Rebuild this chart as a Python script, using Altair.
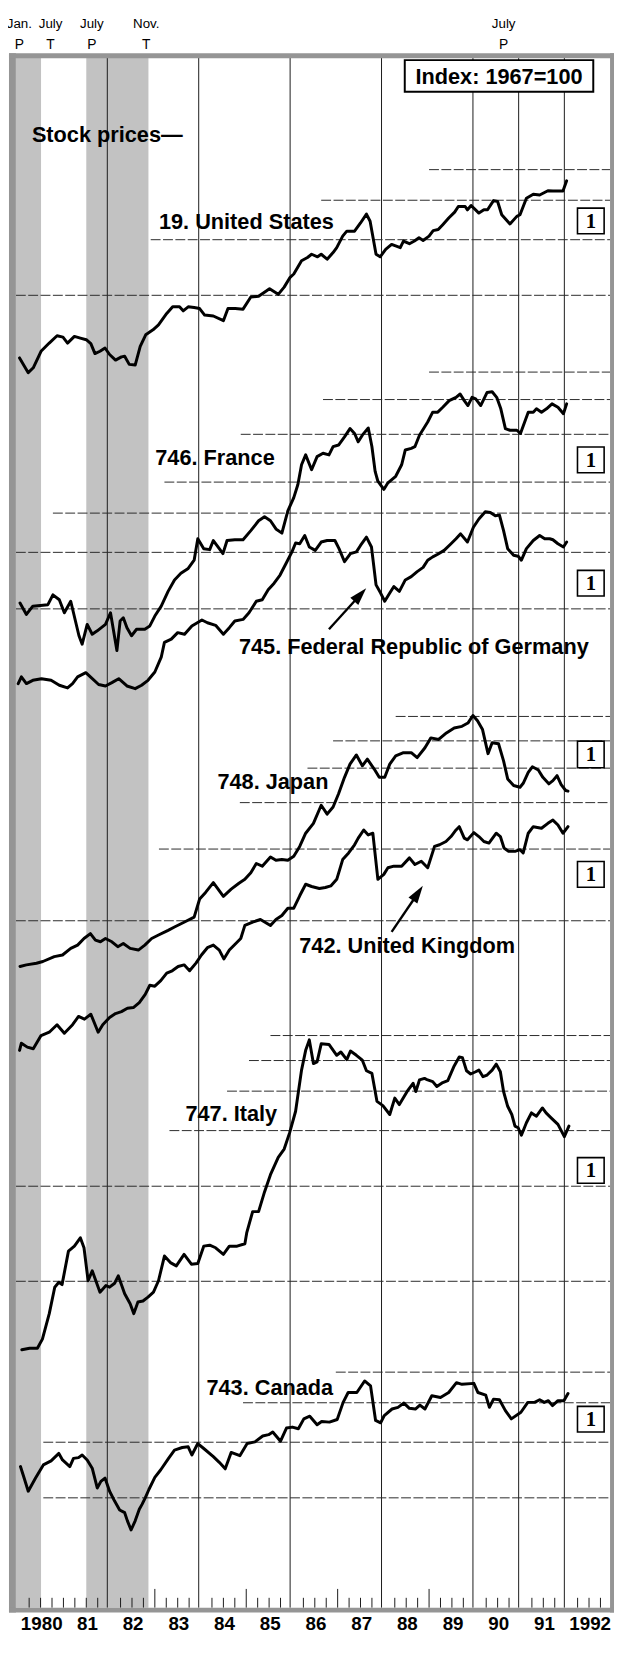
import altair as alt
import pandas as pd

FONT = "Liberation Sans, Arial, Helvetica, sans-serif"
SERIF = "Liberation Serif, DejaVu Serif, serif"

# ---------------- data (index, 1967=100; ratio scale) ----------------
us_t = [1980.08, 1980.27, 1980.38, 1980.55, 1980.73, 1980.90, 1981.03, 1981.13, 1981.28, 1981.41,
        1981.54, 1981.64, 1981.73, 1981.84, 1981.95, 1982.05, 1982.18, 1982.31, 1982.38, 1982.48,
        1982.61, 1982.72, 1982.84, 1983.00, 1983.12, 1983.30, 1983.43, 1983.58, 1983.66, 1983.77,
        1983.90, 1984.02, 1984.13, 1984.32, 1984.54, 1984.64, 1984.80, 1984.97, 1985.14, 1985.31,
        1985.55, 1985.74, 1985.87, 1986.00, 1986.08, 1986.25, 1986.38, 1986.47, 1986.60, 1986.68,
        1986.81, 1986.94, 1987.02, 1987.15, 1987.24, 1987.41, 1987.54, 1987.67, 1987.75, 1987.88,
        1987.97, 1988.09, 1988.22, 1988.41, 1988.48, 1988.61, 1988.72, 1988.82, 1988.91, 1989.04,
        1989.13, 1989.24, 1989.34, 1989.47, 1989.60, 1989.68, 1989.83, 1989.88, 1989.96, 1990.13,
        1990.24, 1990.32, 1990.45, 1990.54, 1990.63, 1990.81, 1990.96, 1991.03, 1991.17, 1991.32,
        1991.46, 1991.64, 1991.75, 1991.97, 1992.05]
us_v = [126.7, 113.8, 117.9, 133.0, 141.2, 148.9, 147.4, 141.2, 148.2, 146.4,
        144.7, 140.6, 130.8, 133.0, 136.2, 129.9, 124.7, 127.7, 128.3, 120.9,
        120.3, 137.9, 150.0, 155.5, 161.2, 175.2, 183.9, 183.9, 178.6, 183.9,
        182.9, 181.6, 173.2, 172.0, 166.2, 181.6, 181.6, 180.8, 197.6, 198.6,
        209.7, 201.4, 212.3, 228.1, 233.6, 257.3, 263.5, 269.8, 264.8, 269.8,
        260.3, 273.1, 283.1, 308.0, 319.3, 319.3, 338.9, 361.6, 343.1, 269.8,
        264.8, 279.7, 289.9, 283.1, 297.1, 291.4, 297.1, 304.2, 298.4, 308.0,
        320.6, 323.0, 334.8, 351.3, 366.8, 382.2, 382.2, 373.0, 385.0, 364.2,
        373.0, 373.0, 399.0, 396.2, 359.8, 336.5, 355.6, 359.8, 405.7, 417.6,
        415.5, 428.8, 427.6, 427.6, 460.8]

fr_t = [1980.09, 1980.23, 1980.37, 1980.70, 1980.81, 1980.95, 1981.06, 1981.20, 1981.38, 1981.45,
        1981.56, 1981.67, 1981.78, 1981.96, 1982.07, 1982.21, 1982.28, 1982.35, 1982.43, 1982.53,
        1982.64, 1982.82, 1982.93, 1983.04, 1983.18, 1983.33, 1983.47, 1983.61, 1983.77, 1983.90,
        1983.98, 1984.11, 1984.24, 1984.32, 1984.45, 1984.53, 1984.62, 1984.79, 1984.97, 1985.14,
        1985.31, 1985.44, 1985.57, 1985.69, 1985.82, 1985.95, 1986.08, 1986.17, 1986.25, 1986.34,
        1986.47, 1986.59, 1986.72, 1986.85, 1986.94, 1987.06, 1987.19, 1987.31, 1987.41, 1987.49,
        1987.58, 1987.71, 1987.79, 1987.86, 1987.92, 1988.05, 1988.14, 1988.31, 1988.44, 1988.52,
        1988.65, 1988.73, 1988.83, 1989.01, 1989.12, 1989.23, 1989.34, 1989.48, 1989.63, 1989.72,
        1989.81, 1989.89, 1989.98, 1990.06, 1990.17, 1990.31, 1990.42, 1990.52, 1990.61, 1990.71,
        1990.81, 1990.96, 1991.04, 1991.21, 1991.32, 1991.39, 1991.50, 1991.61, 1991.73, 1991.86,
        1991.98, 1992.05]
fr_v = [104.4, 96.0, 102.0, 103.1, 110.8, 106.9, 97.2, 105.7, 82.2, 77.3,
        89.3, 83.1, 85.2, 89.3, 97.2, 73.8, 91.5, 93.7, 87.2, 82.2,
        86.2, 86.2, 88.3, 94.9, 102.0, 113.6, 123.5, 129.6, 134.3, 142.6,
        166.7, 155.1, 154.0, 164.6, 155.1, 149.6, 164.6, 165.5, 165.5, 176.9,
        190.1, 195.7, 190.1, 179.1, 173.7, 204.3, 225.0, 247.6, 285.9, 307.3,
        275.8, 303.5, 311.0, 307.3, 326.2, 330.2, 350.5, 372.3, 359.2, 338.1,
        354.8, 373.9, 326.2, 272.5, 253.6, 238.9, 250.7, 262.9, 285.9, 318.5,
        322.4, 326.2, 354.8, 390.5, 419.6, 419.6, 434.9, 456.4, 467.4, 479.0,
        456.4, 440.3, 467.4, 462.1, 440.3, 484.5, 487.0, 467.4, 430.0, 372.3,
        367.8, 367.8, 359.2, 419.6, 419.6, 430.0, 419.6, 430.0, 445.8, 434.9,
        414.8, 445.8]

de_t = [1980.05, 1980.12, 1980.23, 1980.37, 1980.56, 1980.77, 1980.95, 1981.13, 1981.24, 1981.35,
        1981.53, 1981.63, 1981.81, 1981.96, 1982.10, 1982.25, 1982.43, 1982.61, 1982.75, 1982.89,
        1983.04, 1983.18, 1983.25, 1983.40, 1983.54, 1983.69, 1983.85, 1984.07, 1984.19, 1984.37,
        1984.54, 1984.67, 1984.79, 1984.97, 1985.10, 1985.26, 1985.39, 1985.52, 1985.65, 1985.78,
        1985.91, 1986.04, 1986.12, 1986.21, 1986.32, 1986.42, 1986.55, 1986.68, 1986.81, 1986.98,
        1987.07, 1987.19, 1987.32, 1987.45, 1987.54, 1987.67, 1987.78, 1987.88, 1987.98, 1988.07,
        1988.18, 1988.27, 1988.39, 1988.52, 1988.65, 1988.78, 1988.91, 1989.01, 1989.12, 1989.23,
        1989.37, 1989.52, 1989.63, 1989.73, 1989.88, 1990.01, 1990.13, 1990.27, 1990.38, 1990.49,
        1990.58, 1990.67, 1990.76, 1990.89, 1990.99, 1991.06, 1991.17, 1991.32, 1991.46, 1991.57,
        1991.68, 1991.75, 1991.86, 1991.98, 1992.05]
de_v = [58.0, 60.9, 58.0, 59.4, 60.1, 59.4, 57.3, 56.2, 58.0, 60.9,
        62.8, 60.9, 57.6, 57.0, 58.4, 60.1, 57.0, 55.9, 57.3, 59.4,
        63.1, 70.3, 78.3, 80.2, 84.1, 83.1, 88.3, 92.2, 90.4, 88.7,
        83.1, 87.2, 91.5, 92.6, 97.2, 105.7, 106.9, 114.9, 120.6, 128.0,
        139.2, 151.5, 161.6, 160.8, 170.7, 157.0, 153.2, 162.8, 164.6, 164.6,
        155.1, 141.0, 149.6, 151.5, 158.8, 168.7, 157.0, 119.1, 112.2, 105.7,
        112.2, 117.7, 113.6, 123.5, 126.5, 131.2, 135.3, 142.6, 146.1, 148.9,
        153.2, 160.8, 166.7, 172.8, 162.8, 181.3, 192.5, 202.9, 202.0, 197.1,
        198.1, 176.9, 155.1, 147.8, 146.7, 142.6, 155.1, 164.6, 170.7, 166.7,
        166.7, 165.5, 160.8, 157.0, 162.8]

jp_t = [1980.09, 1980.23, 1980.45, 1980.59, 1980.84, 1981.02, 1981.20, 1981.35, 1981.49, 1981.63,
        1981.74, 1981.85, 1981.96, 1982.10, 1982.23, 1982.35, 1982.50, 1982.68, 1982.82, 1982.97,
        1983.11, 1983.33, 1983.47, 1983.69, 1983.90, 1984.02, 1984.15, 1984.32, 1984.54, 1984.71,
        1984.88, 1985.01, 1985.14, 1985.26, 1985.39, 1985.57, 1985.69, 1985.82, 1985.95, 1986.08,
        1986.21, 1986.34, 1986.51, 1986.68, 1986.81, 1986.94, 1987.06, 1987.19, 1987.31, 1987.45,
        1987.58, 1987.69, 1987.84, 1987.95, 1988.07, 1988.18, 1988.31, 1988.48, 1988.65, 1988.78,
        1988.95, 1989.08, 1989.25, 1989.42, 1989.59, 1989.76, 1989.89, 1990.00, 1990.10, 1990.21,
        1990.33, 1990.42, 1990.56, 1990.67, 1990.76, 1990.89, 1991.03, 1991.10, 1991.21, 1991.30,
        1991.43, 1991.53, 1991.66, 1991.75, 1991.84, 1991.93, 1992.03, 1992.08]
jp_v = [212.0, 214.5, 217.1, 219.8, 227.8, 230.5, 241.8, 247.7, 259.9, 269.4,
        256.8, 253.8, 259.9, 253.8, 244.8, 250.7, 241.8, 238.9, 247.7, 259.9,
        266.1, 275.9, 282.7, 293.1, 303.8, 346.6, 363.7, 390.8, 353.4, 372.4,
        388.9, 400.2, 420.0, 449.1, 440.4, 471.2, 459.8, 462.1, 459.8, 473.3,
        508.6, 560.0, 601.9, 686.6, 643.5, 678.2, 746.8, 841.6, 926.7, 990.9,
        915.5, 960.8, 894.0, 841.6, 841.6, 926.7, 983.8, 1007.4, 1007.4, 971.8,
        1044.4, 1122.2, 1109.4, 1163.3, 1206.0, 1220.8, 1250.2, 1321.4, 1272.0, 1192.3,
        1000.2, 1082.6, 1074.9, 949.1, 832.0, 792.8, 783.2, 806.0, 872.4, 909.0,
        887.7, 841.6, 802.6, 821.9, 851.9, 798.6, 764.8, 761.0]

uk_t = [1980.08, 1980.12, 1980.25, 1980.38, 1980.55, 1980.73, 1980.90, 1981.06, 1981.24, 1981.37,
        1981.50, 1981.64, 1981.80, 1981.90, 1982.05, 1982.18, 1982.31, 1982.44, 1982.57, 1982.70,
        1982.83, 1982.93, 1983.04, 1983.17, 1983.30, 1983.42, 1983.55, 1983.68, 1983.80, 1983.94,
        1984.06, 1984.19, 1984.32, 1984.45, 1984.55, 1984.67, 1984.79, 1984.92, 1985.01, 1985.18,
        1985.35, 1985.57, 1985.69, 1985.82, 1985.95, 1986.08, 1986.21, 1986.34, 1986.47, 1986.64,
        1986.77, 1986.89, 1987.02, 1987.15, 1987.28, 1987.41, 1987.49, 1987.61, 1987.71, 1987.81,
        1987.92, 1988.05, 1988.14, 1988.27, 1988.44, 1988.61, 1988.73, 1988.87, 1989.01, 1989.16,
        1989.27, 1989.41, 1989.52, 1989.63, 1989.70, 1989.81, 1989.88, 1990.02, 1990.13, 1990.24,
        1990.35, 1990.51, 1990.60, 1990.68, 1990.78, 1990.92, 1991.03, 1991.10, 1991.21, 1991.32,
        1991.50, 1991.64, 1991.75, 1991.86, 1991.97, 1992.08]
uk_v = [116.6, 122.9, 119.4, 118.0, 129.9, 133.1, 140.6, 132.1, 140.6, 149.3,
        146.4, 151.8, 133.1, 140.6, 148.2, 152.5, 154.7, 158.5, 159.3, 165.1,
        175.3, 187.5, 186.2, 193.8, 204.9, 208.3, 215.0, 217.5, 208.3, 220.2,
        233.7, 246.5, 251.2, 242.3, 227.1, 242.3, 252.4, 263.5, 290.0, 297.2,
        302.8, 290.0, 302.8, 311.7, 328.7, 328.7, 359.9, 391.5, 385.1, 379.6,
        382.3, 386.8, 405.8, 468.7, 491.8, 522.1, 547.9, 581.6, 561.0, 567.9,
        405.8, 420.7, 441.5, 446.6, 446.6, 474.5, 452.1, 463.0, 441.5, 515.8,
        522.1, 534.7, 554.3, 581.6, 595.6, 547.9, 541.2, 570.4, 554.3, 534.7,
        528.5, 567.9, 554.3, 509.9, 497.5, 497.5, 503.6, 491.8, 567.9, 595.6,
        588.8, 610.4, 625.0, 602.9, 567.9, 595.6]

it_t = [1980.13, 1980.30, 1980.47, 1980.58, 1980.73, 1980.85, 1980.94, 1981.01, 1981.15, 1981.28,
        1981.41, 1981.49, 1981.58, 1981.67, 1981.84, 1981.97, 1982.05, 1982.16, 1982.24, 1982.38,
        1982.50, 1982.58, 1982.67, 1982.78, 1982.89, 1983.01, 1983.12, 1983.25, 1983.38, 1983.51,
        1983.68, 1983.84, 1983.98, 1984.11, 1984.24, 1984.37, 1984.54, 1984.67, 1984.84, 1985.01,
        1985.05, 1985.18, 1985.31, 1985.44, 1985.57, 1985.74, 1985.87, 1985.99, 1986.12, 1986.25,
        1986.34, 1986.42, 1986.51, 1986.59, 1986.68, 1986.85, 1987.02, 1987.11, 1987.24, 1987.32,
        1987.45, 1987.58, 1987.67, 1987.79, 1987.90, 1988.03, 1988.18, 1988.29, 1988.39, 1988.56,
        1988.69, 1988.75, 1988.83, 1988.94, 1989.01, 1989.12, 1989.21, 1989.34, 1989.45, 1989.58,
        1989.70, 1989.77, 1989.86, 1989.95, 1990.06, 1990.13, 1990.22, 1990.31, 1990.42, 1990.51,
        1990.60, 1990.67, 1990.76, 1990.85, 1990.92, 1990.99, 1991.06, 1991.17, 1991.28, 1991.39,
        1991.52, 1991.60, 1991.71, 1991.86, 1992.00, 1992.10]
it_v = [60.7, 61.4, 61.4, 65.6, 79.0, 95.8, 99.3, 97.6, 124.6, 129.2,
        137.3, 127.7, 100.4, 107.9, 92.4, 96.9, 95.8, 98.6, 104.1, 91.3,
        84.9, 79.0, 86.0, 86.6, 89.1, 92.4, 100.4, 120.2, 114.6, 111.9,
        121.7, 113.3, 113.8, 129.2, 130.1, 127.7, 121.7, 129.2, 129.2, 131.5,
        142.3, 166.2, 166.2, 191.9, 217.5, 246.9, 262.3, 295.6, 345.5, 466.4,
        538.6, 581.2, 489.1, 495.1, 564.8, 562.3, 519.6, 532.0, 503.4, 535.9,
        519.6, 501.2, 464.1, 455.2, 371.3, 360.0, 337.4, 380.2, 362.6, 399.0,
        423.5, 399.0, 434.0, 439.0, 434.0, 428.7, 413.6, 425.7, 431.8, 477.6,
        513.3, 510.6, 464.1, 453.2, 460.7, 466.4, 444.4, 449.9, 466.4, 487.0,
        460.7, 399.0, 358.2, 337.4, 310.1, 306.4, 290.1, 317.6, 341.3, 333.3,
        353.8, 341.3, 329.3, 314.0, 287.2, 310.1]

ca_t = [1980.10, 1980.18, 1980.27, 1980.43, 1980.60, 1980.77, 1980.94, 1981.02, 1981.18, 1981.26,
        1981.37, 1981.45, 1981.56, 1981.67, 1981.78, 1981.86, 1981.95, 1982.05, 1982.16, 1982.27,
        1982.38, 1982.44, 1982.52, 1982.61, 1982.70, 1982.76, 1982.83, 1982.91, 1983.04, 1983.17,
        1983.34, 1983.47, 1983.64, 1983.77, 1983.85, 1983.98, 1984.11, 1984.32, 1984.45, 1984.58,
        1984.71, 1984.90, 1985.06, 1985.23, 1985.40, 1985.53, 1985.62, 1985.79, 1985.92, 1986.05,
        1986.18, 1986.30, 1986.43, 1986.59, 1986.69, 1986.86, 1987.03, 1987.16, 1987.27, 1987.46,
        1987.63, 1987.76, 1987.87, 1987.98, 1988.06, 1988.23, 1988.36, 1988.49, 1988.61, 1988.74,
        1988.84, 1988.95, 1989.10, 1989.29, 1989.47, 1989.64, 1989.76, 1990.02, 1990.11, 1990.28,
        1990.36, 1990.45, 1990.58, 1990.71, 1990.84, 1991.05, 1991.20, 1991.35, 1991.46, 1991.56,
        1991.65, 1991.74, 1991.86, 1991.99, 1992.08]
ca_v = [251.2, 231.0, 209.9, 231.0, 254.3, 261.8, 276.5, 263.6, 251.2, 266.7,
        268.1, 273.3, 263.6, 248.2, 214.9, 225.5, 231.0, 209.9, 195.3, 183.1,
        179.5, 169.1, 158.2, 169.1, 184.0, 190.7, 200.0, 212.5, 232.1, 245.4,
        266.7, 283.3, 288.7, 290.1, 273.3, 297.1, 286.6, 270.0, 259.1, 247.1,
        278.5, 271.9, 297.1, 300.8, 314.0, 317.0, 323.2, 302.3, 332.6, 335.0,
        331.0, 355.7, 362.6, 340.7, 349.0, 347.3, 354.1, 401.1, 431.0, 431.0,
        468.9, 452.3, 351.6, 345.6, 364.5, 382.2, 386.9, 399.1, 384.1, 382.2,
        393.4, 382.2, 420.9, 415.8, 431.0, 463.1, 457.5, 460.8, 431.0, 422.7,
        386.9, 410.7, 408.9, 377.8, 355.7, 373.2, 401.1, 401.1, 408.9, 401.1,
        406.0, 391.7, 406.0, 406.0, 427.9]

# dashed ratio-scale rulings for each series (index value) and the date each one begins
us_grid, us_grid_from = [500, 400, 300, 200], [1989.04, 1986.68, 1982.95, 1980.0]
fr_grid, fr_grid_from = [562, 460, 357, 252], [1989.04, 1986.72, 1984.92, 1983.25]
de_grid, de_grid_from = [201, 151, 100], [1980.81, 1980.0, 1980.0]
jp_grid, jp_grid_from = [1312, 1098, 900, 700], [1988.31, 1986.94, 1986.38, 1984.90]
uk_grid, uk_grid_from = [506, 300], [1983.13, 1980.0]
it_grid, it_grid_from = [600, 500, 400, 300, 200, 100], [1985.57, 1985.10, 1984.62, 1983.36, 1980.0, 1980.0]
ca_grid, ca_grid_from = [500, 400, 300, 200], [1987.0, 1984.97, 1980.6, 1980.6]

series_names = ["19. United States", "746. France", "745. Federal Republic of Germany",
                "748. Japan", "742. United Kingdom", "747. Italy", "743. Canada"]

# business-cycle turning points and recession shading
tp_month = ["Jan.", "July", "July", "Nov.", "July"]
tp_type = ["P", "T", "P", "T", "P"]
tp_date = [1980.0, 1980.5, 1981.5, 1982.83, 1990.5]
rec_start = [1980.0, 1981.54]
rec_end = [1980.55, 1982.90]

year_labels = ["1980", "81", "82", "83", "84", "85", "86", "87", "88", "89", "90", "91", "1992"]
year_lines = [1982, 1984, 1986, 1988, 1990, 1991, 1992]

# ---------------- layout ----------------
W, H = 602, 1571
CYCLE = 320.0          # pixels per tenfold change (ratio scale "1")
PX_PER_YEAR = W / 13.0
xsc = alt.Scale(domain=[1980, 1993], nice=False, zero=False)

# anchor (index value, pixel from top of plot) of each series' ratio scale
anchors = {
    "us": (200, 241.3), "fr": (100, 559.0), "de": (100, 559.0), "jp": (700, 755.3),
    "uk": (300, 875.0), "it": (100, 1240.3), "ca": (200, 1459.7),
}


def yscale(key):
    a, px = anchors[key]
    hi = a * 10 ** (px / CYCLE)
    lo = a * 10 ** ((px - H) / CYCLE)
    return alt.Scale(type="log", domain=[lo, hi], nice=False, zero=False)


def series_layers(key, t, v, grid, grid_from):
    ys = yscale(key)
    g = pd.DataFrame({"v": grid, "t0": grid_from, "t1": [1993.0] * len(grid)})
    gl = alt.Chart(g).mark_rule(color="#2a2a2a", strokeWidth=1, strokeDash=[10, 2.5]).encode(
        x=alt.X("t0:Q", scale=xsc, axis=None), x2="t1:Q",
        y=alt.Y("v:Q", scale=ys, axis=None))
    d = pd.DataFrame({"t": t, "v": v})
    ln = alt.Chart(d).mark_line(color="black", strokeWidth=3, strokeJoin="round",
                                strokeCap="round").encode(
        x=alt.X("t:Q", scale=xsc, axis=None),
        y=alt.Y("v:Q", scale=ys, axis=None))
    return gl, ln


layers = []

# recession shading
rec = pd.DataFrame({"s": rec_start, "e": rec_end})
layers.append(alt.Chart(rec).mark_rect(color="#c2c2c2").encode(
    x=alt.X("s:Q", scale=xsc, axis=None), x2="e:Q", y=alt.value(0), y2=alt.value(H)))

# vertical year rulings
vl = pd.DataFrame({"t": year_lines})
layers.append(alt.Chart(vl).mark_rule(color="#1a1a1a", strokeWidth=1).encode(
    x=alt.X("t:Q", scale=xsc, axis=None), y=alt.value(0), y2=alt.value(H)))

# quarterly ticks along the bottom
tk_t, tk_len = [], []
for yr in range(1980, 1993):
    for q in range(4):
        if q == 0 and yr in year_lines + [1980]:
            continue
        tk_t.append(yr + q / 4 + 0.04)
        tk_len.append(19 if (q == 0 and yr % 2 == 1 and yr >= 1983) else 10)
tk = pd.DataFrame({"t": tk_t, "y0": [H - L for L in tk_len], "y1": [H] * len(tk_t)})
layers.append(alt.Chart(tk).mark_rule(color="#1a1a1a", strokeWidth=1).encode(
    x=alt.X("t:Q", scale=xsc, axis=None),
    y=alt.Y("y0:Q", scale=None, axis=None), y2="y1:Q"))

all_series = [
    ("us", us_t, us_v, us_grid, us_grid_from),
    ("fr", fr_t, fr_v, fr_grid, fr_grid_from),
    ("de", de_t, de_v, de_grid, de_grid_from),
    ("jp", jp_t, jp_v, jp_grid, jp_grid_from),
    ("uk", uk_t, uk_v, uk_grid, uk_grid_from),
    ("it", it_t, it_v, it_grid, it_grid_from),
    ("ca", ca_t, ca_v, ca_grid, ca_grid_from),
]
grid_layers, line_layers = [], []
for s in all_series:
    g, l = series_layers(*s)
    grid_layers.append(g)
    line_layers.append(l)
layers += grid_layers + line_layers

# series titles (left edge date, baseline pixel)
lab = pd.DataFrame({
    "text": ["Stock prices\u2014"] + series_names,
    "t": [1980.35, 1983.13, 1983.05, 1984.88, 1984.41, 1986.20, 1983.71, 1984.17],
    "py": [86, 174, 413, 605, 742, 908, 1078, 1355],
})
layers.append(alt.Chart(lab).mark_text(align="left", baseline="alphabetic", font=FONT,
                                        fontWeight="bold", fontSize=22, color="black").encode(
    x=alt.X("t:Q", scale=xsc, axis=None), y=alt.Y("py:Q", scale=None, axis=None), text="text:N"))

# arrows pointing at Germany and United Kingdom lines
arr = pd.DataFrame({"x0": [317.2, 380.7], "y0": [579.7, 886.3], "x1": [348.9, 407.3], "y1": [544.7, 847.1]})
layers.append(alt.Chart(arr).mark_rule(color="black", strokeWidth=2.4).encode(
    x=alt.X("x0:Q", scale=None, axis=None), y=alt.Y("y0:Q", scale=None, axis=None),
    x2="x1:Q", y2="y1:Q"))
for (hx, hy, ang) in [(348.9, 544.7, 42), (407.3, 847.1, 34)]:
    layers.append(alt.Chart(pd.DataFrame({"x": [hx], "y": [hy]})).mark_point(
        shape="M0,-1L0.6,1L-0.6,1Z", filled=True, color="black", opacity=1, size=324, angle=ang,
        strokeWidth=0).encode(x=alt.X("x:Q", scale=None, axis=None), y=alt.Y("y:Q", scale=None, axis=None)))

# scale boxes "1"
bx = pd.DataFrame({
    "y1": [153, 395, 520, 693, 815, 1115, 1367],
    "y2": [179, 421, 546, 720, 841, 1141, 1393],
})
bx["x1"] = 569
bx["x2"] = 596
bx["yc"] = (bx["y1"] + bx["y2"]) / 2 + 1
bx["xc"] = 582.5
bx["lbl"] = "1"
layers.append(alt.Chart(bx).mark_rect(fill="white", stroke="black", strokeWidth=1.6).encode(
    x=alt.X("x1:Q", scale=None, axis=None), x2="x2:Q",
    y=alt.Y("y1:Q", scale=None, axis=None), y2="y2:Q"))
layers.append(alt.Chart(bx).mark_text(font=SERIF, fontWeight="bold", fontSize=21,
                                       baseline="middle", align="center").encode(
    x=alt.X("xc:Q", scale=None, axis=None), y=alt.Y("yc:Q", scale=None, axis=None), text="lbl:N"))

# Index box
layers.append(alt.Chart(pd.DataFrame({"a": [0]})).mark_rect(fill="white", stroke="black", strokeWidth=2).encode(
    x=alt.value(394), x2=alt.value(585), y=alt.value(3), y2=alt.value(35)))
layers.append(alt.Chart(pd.DataFrame({"a": [0]})).mark_text(
    text="Index: 1967=100", font=FONT, fontWeight="bold", fontSize=22, baseline="middle", align="center").encode(
    x=alt.value(489.5), y=alt.value(20)))

# turning-point annotations above the frame
tp_dx = [3.5, 12, 7.5, 1, 8]
tp = pd.DataFrame({"m": tp_month, "p": tp_type,
                   "t": [d + dx / PX_PER_YEAR for d, dx in zip(tp_date, tp_dx)]})
layers.append(alt.Chart(tp).mark_text(font=FONT, fontSize=13.5, baseline="middle").encode(
    x=alt.X("t:Q", scale=xsc, axis=None), y=alt.value(-34), text="m:N"))
layers.append(alt.Chart(tp).mark_text(font=FONT, fontSize=14, baseline="middle").encode(
    x=alt.X("t:Q", scale=xsc, axis=None), y=alt.value(-12), text="p:N"))

# year labels
yl = pd.DataFrame({"lbl": year_labels, "t": [1980.5 + i + 3 / PX_PER_YEAR for i in range(13)]})
layers.append(alt.Chart(yl).mark_text(font=FONT, fontWeight="bold", fontSize=19, baseline="middle").encode(
    x=alt.X("t:Q", scale=xsc, axis=None), y=alt.value(H + 17), text="lbl:N"))

# stippled frame
frame = pd.DataFrame({"x1": [-7, W, -7, -7], "x2": [0, W + 4, W + 4, W + 4],
                      "y1": [-4, -4, -4, H], "y2": [H + 5, H + 5, 1, H + 5]})
layers.append(alt.Chart(frame).mark_rect(color="#959595").encode(
    x=alt.X("x1:Q", scale=None, axis=None), x2="x2:Q",
    y=alt.Y("y1:Q", scale=None, axis=None), y2="y2:Q"))

chart = alt.layer(*layers).resolve_scale(y="independent").properties(
    width=W, height=H,
    autosize=alt.AutoSizeParams(type="none"),
    padding={"left": 8, "top": 39, "right": 4, "bottom": 27},
).configure_view(stroke=None)

chart.save("out.html", embed_options={"renderer": "svg", "actions": False})
